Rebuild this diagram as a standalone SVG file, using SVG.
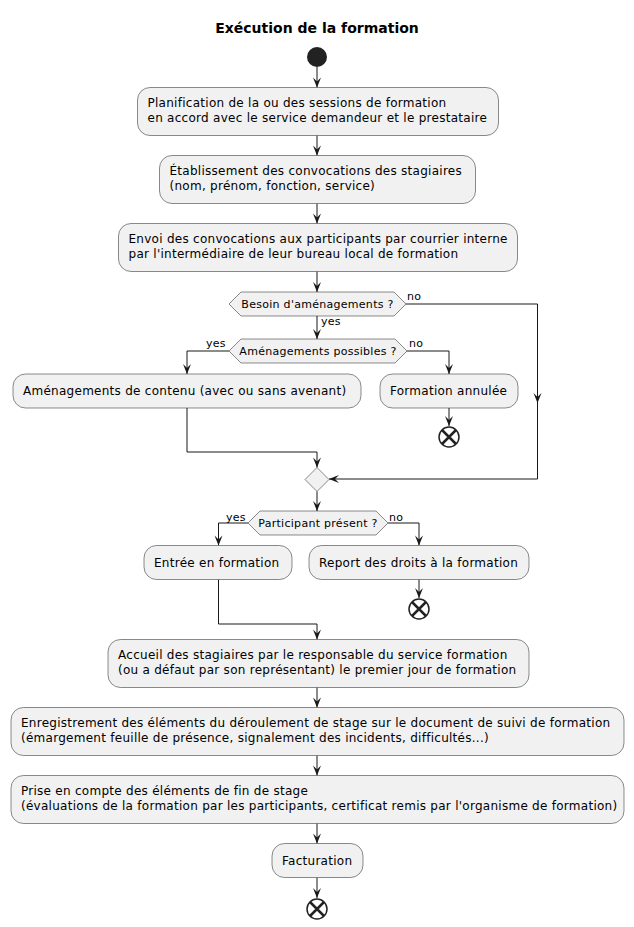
<svg xmlns="http://www.w3.org/2000/svg" width="634" height="927" viewBox="0 0 634 927">
<defs>
<style>
.box{fill:#F1F1F1;stroke:#181818;stroke-width:0.5}
.dia{fill:#F1F1F1;stroke:#181818;stroke-width:0.5}
.t{font-family:"DejaVu Sans",sans-serif;font-size:12px;letter-spacing:0.27px;fill:#000}
.dt{font-family:"DejaVu Sans",sans-serif;font-size:11px;letter-spacing:0.28px;fill:#000}
.lbl{font-family:"DejaVu Sans",sans-serif;font-size:11px;letter-spacing:0.28px;fill:#000}
.title{font-family:"DejaVu Sans",sans-serif;font-size:14px;font-weight:bold;fill:#000}
.c{fill:none;stroke:#181818;stroke-width:1}
.endc{fill:none;stroke:#222222;stroke-width:1.5}
.endx{stroke:#222222;stroke-width:2.5}
</style>
<marker id="ah" viewBox="-11 -5 12 10" refX="0" refY="0" markerWidth="12" markerHeight="10" markerUnits="userSpaceOnUse" orient="auto">
<path d="M-10,-4 L0,0 L-10,4 L-6,0 Z" fill="#181818"/>
</marker>
</defs>
<rect width="634" height="927" fill="#FFFFFF"/>
<text class="title" x="317" y="33" text-anchor="middle">Exécution de la formation</text>

<g id="connectors">
<path class="c" d="M317,67 V87.5" marker-end="url(#ah)"/>
<path class="c" d="M317,135.5 V155.5" marker-end="url(#ah)"/>
<path class="c" d="M317,203.5 V223.5" marker-end="url(#ah)"/>
<path class="c" d="M317,271.5 V292" marker-end="url(#ah)"/>
<path class="c" d="M317,316 V339" marker-end="url(#ah)"/>
<path class="c" d="M229,351 H187 V374" marker-end="url(#ah)"/>
<path class="c" d="M407,351 H449 V374" marker-end="url(#ah)"/>
<path class="c" d="M449,408 V426" marker-end="url(#ah)"/>
<path class="c" d="M406,304 H537.5 V403"/>
<path class="c" d="M537.5,393 V403" marker-end="url(#ah)"/>
<path class="c" d="M537.5,403 V479 H329" marker-end="url(#ah)"/>
<path class="c" d="M187,408 V452 H317 V467.5" marker-end="url(#ah)"/>
<path class="c" d="M317,491.5 V511" marker-end="url(#ah)"/>
<path class="c" d="M248,523 H218.5 V545.5" marker-end="url(#ah)"/>
<path class="c" d="M388,523 H419 V545.5" marker-end="url(#ah)"/>
<path class="c" d="M419,579.5 V598" marker-end="url(#ah)"/>
<path class="c" d="M218.5,579.5 V624 H317 V639.5" marker-end="url(#ah)"/>
<path class="c" d="M317,687.5 V707.5" marker-end="url(#ah)"/>
<path class="c" d="M317,755.5 V775.5" marker-end="url(#ah)"/>
<path class="c" d="M317,823.5 V843.5" marker-end="url(#ah)"/>
<path class="c" d="M317,877.5 V898" marker-end="url(#ah)"/>
<text class="lbl" x="407" y="300">no</text>
<text class="lbl" x="321" y="325">yes</text>
<text class="lbl" x="206" y="347">yes</text>
<text class="lbl" x="409" y="347">no</text>
<text class="lbl" x="226" y="521">yes</text>
<text class="lbl" x="389" y="521">no</text>
</g>

<g id="start"><circle cx="317" cy="57" r="10" fill="#222222"/></g>

<g id="n1">
<rect class="box" x="137.5" y="87.5" width="361" height="48" rx="12.5" ry="12.5"/>
<text class="t" x="147.5" y="107">Planification de la ou des sessions de formation</text>
<text class="t" x="147.5" y="122">en accord avec le service demandeur et le prestataire</text>
</g>
<g id="n2">
<rect class="box" x="159.5" y="155.5" width="316" height="48" rx="12.5" ry="12.5"/>
<text class="t" x="169.5" y="175">Établissement des convocations des stagiaires</text>
<text class="t" x="169.5" y="190">(nom, prénom, fonction, service)</text>
</g>
<g id="n3">
<rect class="box" x="118.5" y="223.5" width="399" height="48" rx="12.5" ry="12.5"/>
<text class="t" x="128.5" y="243">Envoi des convocations aux participants par courrier interne</text>
<text class="t" x="128.5" y="258">par l'intermédiaire de leur bureau local de formation</text>
</g>
<g id="d1">
<polygon class="dia" points="229,304 241,292 394,292 406,304 394,316 241,316"/>
<text class="dt" x="317.5" y="308" text-anchor="middle">Besoin d'aménagements ?</text>
</g>
<g id="d2">
<polygon class="dia" points="229,351 241,339 395,339 407,351 395,363 241,363"/>
<text class="dt" x="318" y="355" text-anchor="middle">Aménagements possibles ?</text>
</g>
<g id="n4">
<rect class="box" x="13" y="374" width="348" height="34" rx="12.5" ry="12.5"/>
<text class="t" x="23" y="395">Aménagements de contenu (avec ou sans avenant)</text>
</g>
<g id="n5">
<rect class="box" x="380" y="374" width="138" height="34" rx="12.5" ry="12.5"/>
<text class="t" x="390" y="395">Formation annulée</text>
</g>
<g id="end1">
<circle class="endc" cx="449" cy="437" r="10"/>
<path class="endx" d="M442,430 L456,444 M456,430 L442,444"/>
</g>
<g id="merge">
<polygon class="dia" points="317,467.5 329,479.5 317,491.5 305,479.5"/>
</g>
<g id="d3">
<polygon class="dia" points="248,523 260,511 376,511 388,523 376,535 260,535"/>
<text class="dt" x="318" y="527" text-anchor="middle">Participant présent ?</text>
</g>
<g id="n6">
<rect class="box" x="144" y="545.5" width="148" height="34" rx="12.5" ry="12.5"/>
<text class="t" x="154" y="566.5">Entrée en formation</text>
</g>
<g id="n7">
<rect class="box" x="309" y="545.5" width="220" height="34" rx="12.5" ry="12.5"/>
<text class="t" x="319" y="566.5">Report des droits à la formation</text>
</g>
<g id="end2">
<circle class="endc" cx="419" cy="609" r="10"/>
<path class="endx" d="M412,602 L426,616 M426,602 L412,616"/>
</g>
<g id="n8">
<rect class="box" x="108" y="639.5" width="421" height="48" rx="12.5" ry="12.5"/>
<text class="t" x="118" y="659">Accueil des stagiaires par le responsable du service formation</text>
<text class="t" x="118" y="674">(ou a défaut par son représentant) le premier jour de formation</text>
</g>
<g id="n9">
<rect class="box" x="11" y="707.5" width="613" height="48" rx="12.5" ry="12.5"/>
<text class="t" x="21" y="727">Enregistrement des éléments du déroulement de stage sur le document de suivi de formation</text>
<text class="t" x="21" y="742">(émargement feuille de présence, signalement des incidents, difficultés...)</text>
</g>
<g id="n10">
<rect class="box" x="11" y="775.5" width="613" height="48" rx="12.5" ry="12.5"/>
<text class="t" x="21" y="795">Prise en compte des éléments de fin de stage</text>
<text class="t" x="21" y="810">(évaluations de la formation par les participants, certificat remis par l'organisme de formation)</text>
</g>
<g id="n11">
<rect class="box" x="272" y="843.5" width="91" height="34" rx="12.5" ry="12.5"/>
<text class="t" x="282" y="865">Facturation</text>
</g>
<g id="end3">
<circle class="endc" cx="317" cy="909" r="10"/>
<path class="endx" d="M310,902 L324,916 M324,902 L310,916"/>
</g>
</svg>
